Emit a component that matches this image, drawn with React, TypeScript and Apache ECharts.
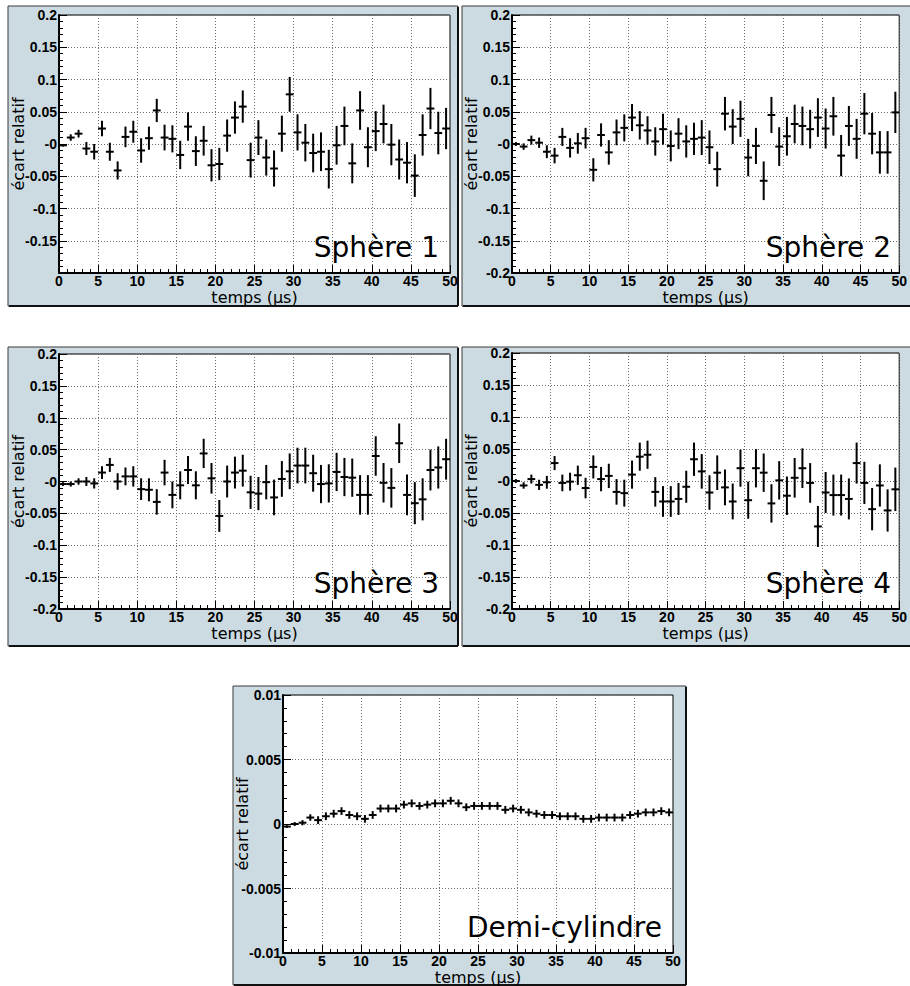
import React, { useEffect, useRef } from "react";
import * as echarts from "echarts";

// ---------- DATA ----------
const timeBins = [
  0.5, 1.5, 2.5, 3.5, 4.5, 5.5, 6.5, 7.5, 8.5, 9.5,
  10.5, 11.5, 12.5, 13.5, 14.5, 15.5, 16.5, 17.5, 18.5, 19.5,
  20.5, 21.5, 22.5, 23.5, 24.5, 25.5, 26.5, 27.5, 28.5, 29.5,
  30.5, 31.5, 32.5, 33.5, 34.5, 35.5, 36.5, 37.5, 38.5, 39.5,
  40.5, 41.5, 42.5, 43.5, 44.5, 45.5, 46.5, 47.5, 48.5, 49.5,
];

const sphere1Values = [
  -0.002, 0.01, 0.016, -0.007, -0.012, 0.024, -0.012, -0.041, 0.011, 0.019,
  -0.01, 0.009, 0.052, 0.01, 0.008, -0.017, 0.027, -0.011, 0.005, -0.033,
  -0.031, 0.013, 0.041, 0.058, -0.025, 0.01, -0.021, -0.038, 0.016, 0.077,
  0.018, 0.002, -0.014, -0.012, -0.039, -0.002, 0.028, -0.03, 0.052, -0.005,
  0.02, 0.031, -0.001, -0.024, -0.029, -0.049, 0.014, 0.055, 0.017, 0.024,
];
const sphere1Errors = [
  0.002, 0.005, 0.006, 0.01, 0.012, 0.012, 0.014, 0.014, 0.016, 0.017,
  0.019, 0.018, 0.018, 0.02, 0.021, 0.022, 0.022, 0.023, 0.023, 0.025,
  0.025, 0.025, 0.025, 0.025, 0.027, 0.027, 0.028, 0.028, 0.028, 0.027,
  0.028, 0.029, 0.03, 0.03, 0.03, 0.03, 0.03, 0.031, 0.03, 0.031,
  0.031, 0.03, 0.032, 0.031, 0.032, 0.033, 0.032, 0.032, 0.033, 0.032,
];

const sphere2Values = [
  0.0, -0.004, 0.006, 0.002, -0.012, -0.018, 0.011, -0.006, 0.001, 0.009,
  -0.04, 0.014, -0.013, 0.018, 0.025, 0.041, 0.029, 0.021, 0.004, 0.023,
  -0.003, 0.016, 0.004, 0.008, 0.01, -0.005, -0.039, 0.047, 0.027, 0.039,
  -0.021, -0.003, -0.057, 0.045, -0.004, 0.012, 0.031, 0.028, 0.023, 0.041,
  0.024, 0.043, -0.018, 0.028, 0.008, 0.047, 0.016, -0.013, -0.013, 0.049,
];
const sphere2Errors = [
  0.003, 0.005, 0.007, 0.008, 0.01, 0.012, 0.014, 0.015, 0.016, 0.016,
  0.018, 0.018, 0.019, 0.02, 0.021, 0.021, 0.022, 0.022, 0.022, 0.024,
  0.024, 0.024, 0.025, 0.025, 0.027, 0.026, 0.027, 0.026, 0.027, 0.028,
  0.029, 0.028, 0.03, 0.028, 0.03, 0.03, 0.03, 0.03, 0.03, 0.03,
  0.031, 0.03, 0.032, 0.031, 0.031, 0.032, 0.032, 0.033, 0.033, 0.032,
];

const sphere3Values = [
  -0.004, -0.004, 0.0, 0.0, -0.003, 0.014, 0.026, 0.0, 0.008, 0.008,
  -0.012, -0.013, -0.032, 0.014, -0.021, -0.006, 0.018, -0.006, 0.044, 0.005,
  -0.054, 0.0, 0.014, 0.017, -0.017, -0.019, -0.001, -0.025, 0.004, 0.016,
  0.025, 0.025, 0.013, -0.004, -0.003, 0.015, 0.007, 0.006, -0.021, -0.021,
  0.04, -0.002, -0.01, 0.06, -0.021, -0.034, -0.028, 0.018, 0.022, 0.035,
];
const sphere3Errors = [
  0.003, 0.004, 0.005, 0.007, 0.008, 0.01, 0.011, 0.013, 0.014, 0.016,
  0.017, 0.018, 0.02, 0.02, 0.021, 0.022, 0.022, 0.022, 0.023, 0.024,
  0.025, 0.025, 0.025, 0.025, 0.026, 0.026, 0.027, 0.028, 0.028, 0.028,
  0.028, 0.028, 0.029, 0.03, 0.03, 0.03, 0.03, 0.03, 0.031, 0.031,
  0.031, 0.031, 0.031, 0.031, 0.032, 0.033, 0.033, 0.032, 0.033, 0.032,
];

const sphere4Values = [
  0.0, -0.007, 0.003, -0.006, -0.002, 0.028, -0.003, -0.001, 0.009, -0.011,
  0.022, 0.003, 0.008, -0.017, -0.019, 0.01, 0.038, 0.041, -0.017, -0.032,
  -0.032, -0.028, -0.009, 0.034, 0.015, -0.018, 0.013, -0.01, -0.032, 0.02,
  -0.03, 0.02, 0.013, -0.035, 0.001, -0.023, 0.005, 0.02, -0.003, -0.071,
  -0.018, -0.022, -0.022, -0.028, 0.028, -0.003, -0.044, -0.007, -0.046, -0.013,
];
const sphere4Errors = [
  0.003, 0.005, 0.007, 0.008, 0.01, 0.011, 0.013, 0.014, 0.015, 0.016,
  0.018, 0.019, 0.019, 0.02, 0.021, 0.022, 0.022, 0.022, 0.023, 0.024,
  0.024, 0.025, 0.025, 0.026, 0.027, 0.027, 0.027, 0.028, 0.028, 0.029,
  0.029, 0.03, 0.03, 0.03, 0.03, 0.03, 0.031, 0.031, 0.031, 0.032,
  0.032, 0.032, 0.032, 0.032, 0.032, 0.033, 0.033, 0.033, 0.033, 0.034,
];

const demiValues = [
  -0.0002, 0.0, 0.0001, 0.0005, 0.0003, 0.0006, 0.0008, 0.001, 0.0007, 0.0006,
  0.0004, 0.0007, 0.0012, 0.0012, 0.0012, 0.0015, 0.0016, 0.0014, 0.0015, 0.0016,
  0.0016, 0.0018, 0.0016, 0.0013, 0.0014, 0.0014, 0.0014, 0.0014, 0.0011, 0.0012,
  0.0011, 0.0009, 0.0008, 0.0007, 0.0007, 0.0006, 0.0006, 0.0006, 0.0004, 0.0004,
  0.0005, 0.0005, 0.0005, 0.0005, 0.0007, 0.0008, 0.0009, 0.0009, 0.001, 0.0009,
];
const demiErrors = [
  0.0001, 0.00015, 0.0002, 0.00025, 0.0003, 0.0003, 0.0003, 0.0003, 0.0003, 0.0003,
  0.0003, 0.0003, 0.0003, 0.0003, 0.0003, 0.0003, 0.0003, 0.0003, 0.0003, 0.0003,
  0.0003, 0.0003, 0.0003, 0.0003, 0.0003, 0.0003, 0.0003, 0.0003, 0.0003, 0.0003,
  0.0003, 0.0003, 0.0003, 0.0003, 0.0003, 0.0003, 0.0003, 0.0003, 0.0003, 0.0003,
  0.0003, 0.0003, 0.0003, 0.0003, 0.0003, 0.0003, 0.0003, 0.0003, 0.0003, 0.0003,
];

const xTickLabels = ["0", "5", "10", "15", "20", "25", "30", "35", "40", "45", "50"];
const sphereYTickLabels = ["-0.2", "-0.15", "-0.1", "-0.05", "-0", "0.05", "0.1", "0.15", "0.2"];
const sphere1YTickLabels = ["", "-0.15", "-0.1", "-0.05", "-0", "0.05", "0.1", "0.15", "0.2"];
const demiYTickLabels = ["-0.01", "-0.005", "0", "0.005", "0.01"];

const panelTitles = ["Sphère 1", "Sphère 2", "Sphère 3", "Sphère 4", "Demi-cylindre"];
const xAxisTitle = "temps (µs)";
const yAxisTitle = "écart relatif";

// ---------- LAYOUT ----------
type Panel = {
  frame: [number, number, number, number];
  grid: [number, number, number, number];
  values: number[];
  errors: number[];
  yMin: number;
  yMax: number;
  yInterval: number;
  yLabels: string[];
  title: string;
};

const panels: Panel[] = [
  { frame: [8, 6, 450, 300], grid: [59, 15, 391, 258], values: sphere1Values, errors: sphere1Errors, yMin: -0.2, yMax: 0.2, yInterval: 0.05, yLabels: sphere1YTickLabels, title: panelTitles[0] },
  { frame: [462, 6, 460, 300], grid: [512, 15, 390, 258], values: sphere2Values, errors: sphere2Errors, yMin: -0.2, yMax: 0.2, yInterval: 0.05, yLabels: sphereYTickLabels, title: panelTitles[1] },
  { frame: [8, 347, 450, 299], grid: [59, 354, 391, 255], values: sphere3Values, errors: sphere3Errors, yMin: -0.2, yMax: 0.2, yInterval: 0.05, yLabels: sphereYTickLabels, title: panelTitles[2] },
  { frame: [462, 347, 460, 299], grid: [512, 353, 390, 256], values: sphere4Values, errors: sphere4Errors, yMin: -0.2, yMax: 0.2, yInterval: 0.05, yLabels: sphereYTickLabels, title: panelTitles[3] },
  { frame: [233, 686, 453, 299], grid: [283, 695, 390, 258], values: demiValues, errors: demiErrors, yMin: -0.01, yMax: 0.01, yInterval: 0.005, yLabels: demiYTickLabels, title: panelTitles[4] },
];

const FRAME_BG = "#ccdbe2";
const LABEL_FONT = "Liberation Sans";
const TITLE_FONT = "DejaVu Sans";

const tickRich = {
  t: {
    fontFamily: LABEL_FONT,
    fontWeight: "bold",
    fontSize: 14,
    color: "#000",
  },
};

function buildOption() {
  const grids: any[] = [];
  const xAxes: any[] = [];
  const yAxes: any[] = [];
  const series: any[] = [];
  const graphics: any[] = [];

  panels.forEach((p, i) => {
    const [fx, fy, fw, fh] = p.frame;
    const [gx, gy, gw, gh] = p.grid;

    graphics.push({
      type: "rect",
      z: -10,
      shape: { x: fx, y: fy, width: fw, height: fh },
      style: { fill: FRAME_BG, stroke: "#3a3a3a", lineWidth: 1 },
    });
    graphics.push({
      type: "line",
      z: -9,
      shape: { x1: fx + fw, y1: fy + 1, x2: fx + fw, y2: fy + fh },
      style: { stroke: "#111", lineWidth: 2 },
    });
    graphics.push({
      type: "line",
      z: -9,
      shape: { x1: fx + 1, y1: fy + fh, x2: fx + fw, y2: fy + fh },
      style: { stroke: "#111", lineWidth: 2 },
    });
    graphics.push({
      type: "text",
      z: 20,
      x: gx + gw - 11,
      y: gy + gh - 26,
      style: {
        text: p.title,
        fontFamily: TITLE_FONT,
        fontSize: 28,
        fill: "#000",
        align: "right",
        verticalAlign: "middle",
      },
    });

    grids.push({
      left: gx,
      top: gy,
      width: gw,
      height: gh,
      show: true,
      backgroundColor: "#fff",
      borderColor: "#000",
      borderWidth: 1,
      containLabel: false,
    });

    xAxes.push({
      type: "value",
      gridIndex: i,
      min: 0,
      max: 50,
      interval: 5,
      name: xAxisTitle,
      nameLocation: "middle",
      nameGap: 16,
      nameMoveOverlap: false,
      nameTextStyle: { fontFamily: TITLE_FONT, fontSize: 16, color: "#000" },
      axisLine: { show: true, onZero: false, lineStyle: { color: "#000", width: 2 } },
      axisTick: { show: true, inside: true, length: 8, lineStyle: { color: "#000", width: 1 } },
      minorTick: { show: true, splitNumber: 5, length: 4, lineStyle: { color: "#000", width: 1 } },
      axisLabel: {
        show: true,
        margin: 1,
        color: "#000",
        showMinLabel: true,
        showMaxLabel: true,
        hideOverlap: false,
        rich: tickRich,
        formatter: (v: number) => `{t|${xTickLabels[Math.round(v / 5)] ?? ""}}`,
      },
      splitLine: { show: true, lineStyle: { color: "#6a6a6a", width: 1, type: [1, 2] } },
      minorSplitLine: { show: false },
    });

    const yMin = p.yMin;
    const yInt = p.yInterval;
    const labels = p.yLabels;
    yAxes.push({
      type: "value",
      gridIndex: i,
      min: yMin,
      max: p.yMax,
      interval: yInt,
      name: yAxisTitle,
      nameLocation: "middle",
      nameRotate: 90,
      nameGap: 33,
      nameMoveOverlap: false,
      nameTextStyle: { fontFamily: TITLE_FONT, fontSize: 16, color: "#000" },
      axisLine: { show: true, onZero: false, lineStyle: { color: "#000", width: 2 } },
      axisTick: { show: true, inside: true, length: 8, lineStyle: { color: "#000", width: 1 } },
      minorTick: { show: true, splitNumber: 5, length: 4, lineStyle: { color: "#000", width: 1 } },
      axisLabel: {
        show: true,
        margin: 2,
        color: "#000",
        showMinLabel: true,
        showMaxLabel: true,
        hideOverlap: false,
        rich: tickRich,
        formatter: (v: number) => {
          const s = labels[Math.round((v - yMin) / yInt)] ?? "";
          return s ? `{t|${s}}` : "";
        },
      },
      splitLine: { show: true, lineStyle: { color: "#6a6a6a", width: 1, type: [1, 2] } },
      minorSplitLine: { show: false },
    });

    series.push({
      type: "custom",
      xAxisIndex: i,
      yAxisIndex: i,
      clip: true,
      z: 5,
      data: timeBins.map((t, k) => [t, p.values[k], p.errors[k]]),
      encode: { x: 0, y: 1 },
      renderItem: (params: any, api: any) => {
        const x = api.value(0);
        const y = api.value(1);
        const e = api.value(2);
        const c = api.coord([x, y]);
        const l = api.coord([x - 0.5, y]);
        const r = api.coord([x + 0.5, y]);
        const t = api.coord([x, y + e]);
        const b = api.coord([x, y - e]);
        return {
          type: "group",
          children: [
            {
              type: "line",
              shape: { x1: l[0], y1: c[1], x2: r[0], y2: c[1] },
              style: { stroke: "#000", lineWidth: 2 },
            },
            {
              type: "line",
              shape: { x1: c[0], y1: t[1], x2: c[0], y2: b[1] },
              style: { stroke: "#000", lineWidth: 2 },
            },
          ],
        };
      },
    });
  });

  return {
    animation: false,
    backgroundColor: "#fff",
    grid: grids,
    xAxis: xAxes,
    yAxis: yAxes,
    series,
    graphic: graphics,
  };
}

export default function App() {
  const ref = useRef<HTMLDivElement>(null);
  useEffect(() => {
    if (!ref.current) return;
    const chart = echarts.init(ref.current, undefined, { renderer: "svg" });
    chart.setOption(buildOption());
    return () => chart.dispose();
  }, []);
  return (
    <div
      ref={ref}
      style={{ position: "fixed", left: 0, top: 0, width: 910, height: 986 }}
    />
  );
}
